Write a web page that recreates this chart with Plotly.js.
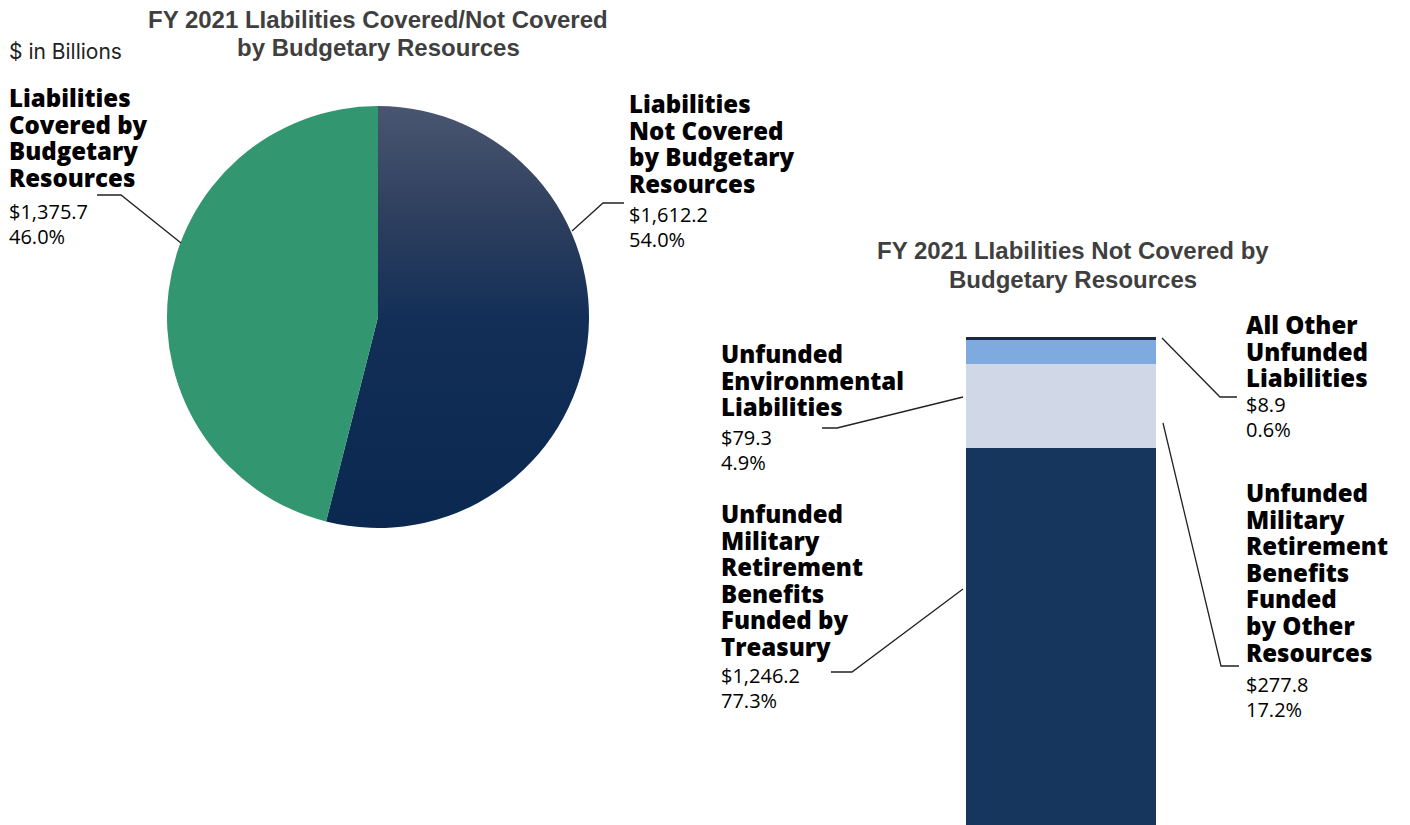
<!DOCTYPE html>
<html>
<head>
<meta charset="utf-8">
<script src="https://cdn.plot.ly/plotly-3.0.1.min.js"></script>
<style>
html,body{margin:0;padding:0;background:#fff;}
#chart{width:1410px;height:825px;}
</style>
</head>
<body>
<div id="chart"></div>
<script>
// ---------- DATA ----------
const pieLabels = ['Liabilities Not Covered by Budgetary Resources', 'Liabilities Covered by Budgetary Resources'];
const pieValues = [1612.2, 1375.7];
const piePct = ['54.0%', '46.0%'];
const pieColors = ['#15305a', '#329670'];

const barNames = ['Unfunded Military Retirement Benefits Funded by Treasury',
                  'Unfunded Military Retirement Benefits Funded by Other Resources',
                  'Unfunded Environmental Liabilities',
                  'All Other Unfunded Liabilities'];
const barValues = [1246.2, 277.8, 79.3, 8.9];
const barPct = ['77.3%', '17.2%', '4.9%', '0.6%'];
const barColors = ['#17365e', '#d0d8e7', '#7eaadf', '#1b2a44'];
const barCategory = ['FY 2021'];

const pieTitleLines = ['FY 2021 LIabilities Covered/Not Covered', 'by Budgetary Resources'];
const barTitleLines = ['FY 2021 LIabilities Not Covered by', 'Budgetary Resources'];
const unitNote = '$ in Billions';

// wrapped label lines as shown in the picture
const pieLabelLines = [
  ['Liabilities', 'Not Covered', 'by Budgetary', 'Resources'],
  ['Liabilities', 'Covered by', 'Budgetary', 'Resources']
];
const barLabelLines = [
  ['Unfunded', 'Military', 'Retirement', 'Benefits', 'Funded by', 'Treasury'],
  ['Unfunded', 'Military', 'Retirement', 'Benefits', 'Funded', 'by Other', 'Resources'],
  ['Unfunded', 'Environmental', 'Liabilities'],
  ['All Other', 'Unfunded', 'Liabilities']
];

// ---------- LAYOUT HELPERS ----------
const W = 1410, H = 825;
const px = x => x / W;
const py = y => 1 - y / H;
const fmt = v => '$' + v.toLocaleString('en-US', {minimumFractionDigits: 1, maximumFractionDigits: 1});

const BOLD_SIZE = 24, REG_SIZE = 20;
const BOLD_PITCH = 26.6, REG_PITCH = 24.5;
const BOLD = {family: '"Open Sans", sans-serif', size: BOLD_SIZE, color: '#000000', weight: 800};
const REG = {family: '"Open Sans", sans-serif', size: REG_SIZE, color: '#000000'};
const TITLE = {family: '"Liberation Sans", Arial, sans-serif', size: 24, color: '#3f3f3f', weight: 700};

const annotations = [];
function txt(x, y, text, font, xanchor, yanchor) {
  annotations.push({xref: 'paper', yref: 'paper', x: px(x), y: py(y), text: text,
    showarrow: false, xanchor: xanchor || 'left', yanchor: yanchor || 'middle', font: font,
    align: 'left', borderpad: 0});
}
// y values are the cap-centre of the first line; boxes anchored at their top
function block(x, yStart, lines, value, pct, valY) {
  txt(x, yStart - 0.78 * BOLD_SIZE, lines.join('<br>'), BOLD, 'left', 'top');
  txt(x, valY - 0.78 * REG_SIZE, fmt(value) + '<br>' + pct, REG, 'left', 'top');
}

// titles
pieTitleLines.forEach((t, i) => txt(378, 19 + i * 28, t, TITLE, 'center'));
barTitleLines.forEach((t, i) => txt(1073, 251 + i * 29, t, TITLE, 'center'));
txt(8, 51.5, unitNote, {family: 'Inter, Roboto, sans-serif', size: 21, color: '#222222'});

// pie labels
block(628, 105, pieLabelLines[0], pieValues[0], piePct[0], 216);
block(8, 99, pieLabelLines[1], pieValues[1], piePct[1], 213);
// bar labels
block(720, 515, barLabelLines[0], barValues[0], barPct[0], 677);
block(1245, 494, barLabelLines[1], barValues[1], barPct[1], 686);
block(720, 355, barLabelLines[2], barValues[2], barPct[2], 439);
block(1245, 326, barLabelLines[3], barValues[3], barPct[3], 406);

// leader lines
function leader(pts) {
  const d = pts.map((p, i) => (i ? 'L' : 'M') + px(p[0]).toFixed(5) + ',' + py(p[1]).toFixed(5)).join(' ');
  return {type: 'path', xref: 'paper', yref: 'paper', path: d, line: {color: '#222222', width: 1.3}};
}
const shapes = [
  leader([[97, 195], [121, 195], [181, 243]]),
  leader([[572, 231], [603, 203], [624, 203]]),
  leader([[1162, 338], [1220, 397], [1237, 397]]),
  leader([[963, 397], [837, 428], [822, 428]]),
  leader([[963, 589], [852, 672], [831, 672]]),
  leader([[1163, 423], [1221, 666], [1239, 666]])
];

// ---------- TRACES ----------
const traces = [{
  type: 'pie',
  labels: pieLabels,
  values: pieValues,
  sort: false,
  direction: 'clockwise',
  rotation: 0,
  marker: {colors: pieColors, line: {width: 0}},
  textinfo: 'none',
  hoverinfo: 'label+value',
  showlegend: false,
  domain: {x: [px(166), px(590)], y: [py(528), py(106)]}
}];
barValues.forEach((v, i) => {
  traces.push({
    type: 'bar',
    x: barCategory,
    y: [v],
    name: barNames[i],
    marker: {color: barColors[i], line: {width: 0}},
    width: 1,
    showlegend: false,
    hoverinfo: 'name+y',
    xaxis: 'x', yaxis: 'y'
  });
});

const total = barValues.reduce((a, b) => a + b, 0);

const layout = {
  width: W, height: H,
  margin: {l: 0, r: 0, t: 0, b: 0, pad: 0},
  paper_bgcolor: '#ffffff',
  plot_bgcolor: 'rgba(0,0,0,0)',
  barmode: 'stack',
  bargap: 0,
  showlegend: false,
  xaxis: {domain: [px(966), px(1156)], range: [-0.5, 0.5], visible: false, fixedrange: true},
  yaxis: {domain: [0, py(337)], range: [0, total], visible: false, fixedrange: true},
  annotations: annotations,
  shapes: shapes
};

Plotly.newPlot('chart', traces, layout, {displayModeBar: false, staticPlot: true}).then(gd => {
  // tighter line spacing for the multi-line labels (as in the picture)
  gd.querySelectorAll('.annotation-text').forEach(t => {
    const lines = t.querySelectorAll('tspan.line');
    if (lines.length < 2) return;
    const fs = parseFloat(t.style.fontSize) || parseFloat(t.getAttribute('font-size'));
    const pitch = fs >= 23 ? BOLD_PITCH : REG_PITCH;
    lines.forEach((l, i) => l.setAttribute('dy', (i * pitch).toFixed(2)));
  });
  // vertical gradient on the "Not Covered" slice, as in the picture
  const svg = gd.querySelector('svg.main-svg');
  const defs = svg.querySelector('defs');
  const NS = 'http://www.w3.org/2000/svg';
  const g = document.createElementNS(NS, 'linearGradient');
  g.setAttribute('id', 'navyGrad');
  g.setAttribute('x1', '0'); g.setAttribute('y1', '0');
  g.setAttribute('x2', '0'); g.setAttribute('y2', '1');
  [['0', '#4a5670'], ['0.25', '#2f405f'], ['0.5', '#142f57'], ['0.75', '#0d2b53'], ['1', '#0a2850']].forEach(s => {
    const st = document.createElementNS(NS, 'stop');
    st.setAttribute('offset', s[0]);
    st.setAttribute('stop-color', s[1]);
    g.appendChild(st);
  });
  defs.appendChild(g);
  const slices = gd.querySelectorAll('.pielayer .slice path.surface');
  if (slices.length) slices[0].style.fill = 'url(#navyGrad)';
});
</script>
</body>
</html>
